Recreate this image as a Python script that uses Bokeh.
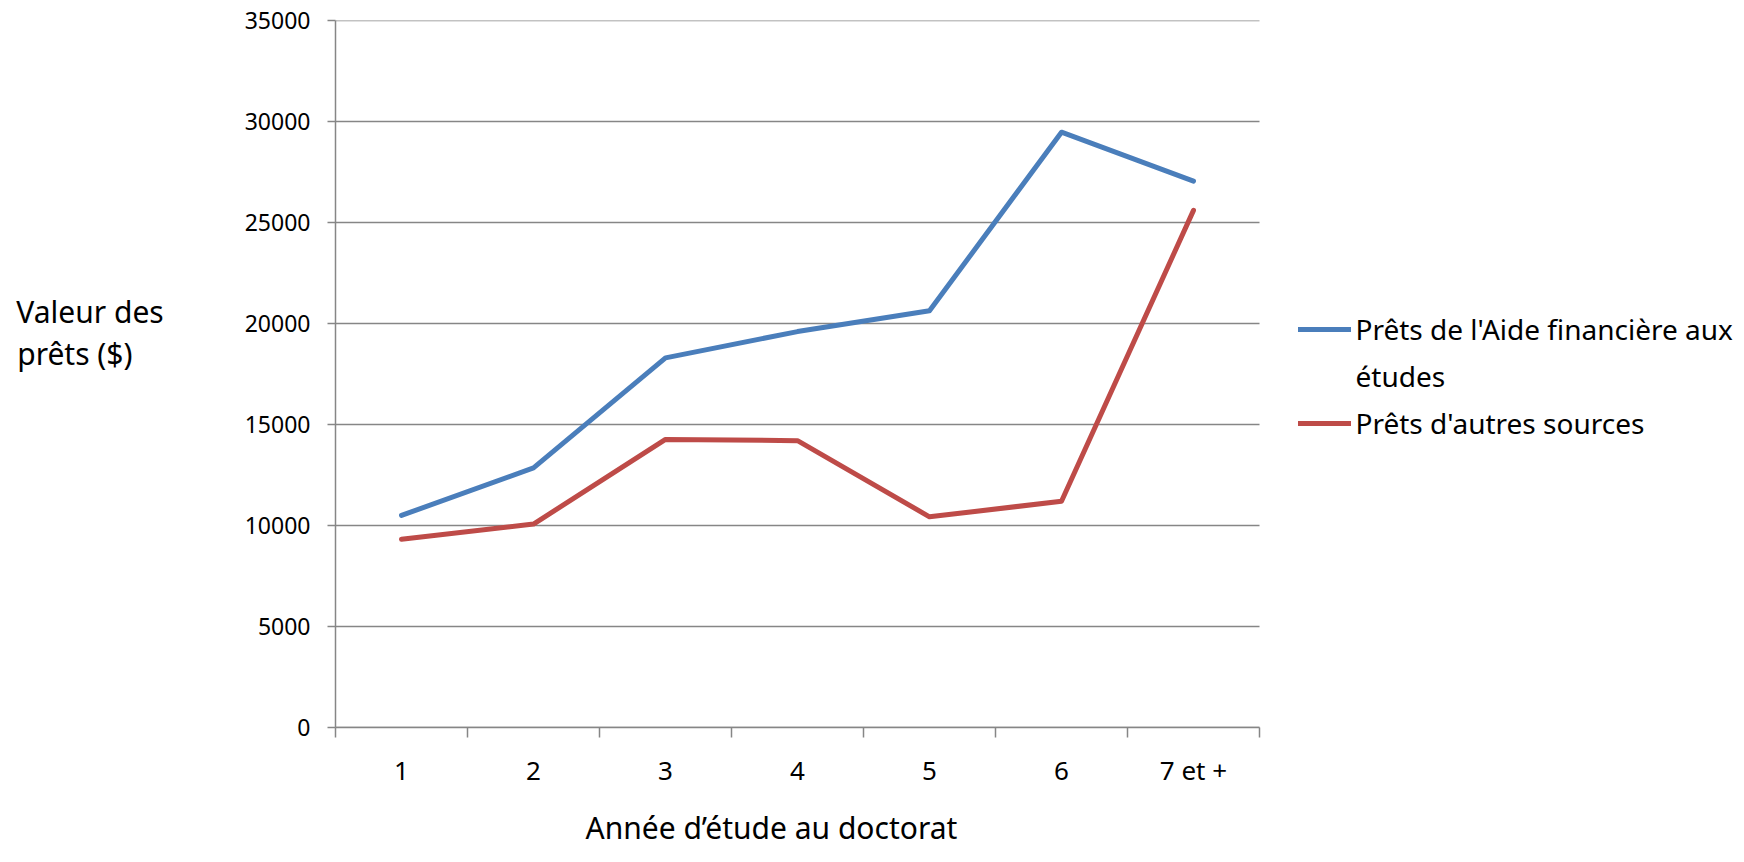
from bokeh.plotting import figure
from bokeh.models import Range1d, FixedTicker, Legend, LegendItem, ColumnDataSource, Title
from bokeh.embed import file_html
from bokeh.resources import INLINE

# ---- data ----
categories = ["1", "2", "3", "4", "5", "6", "7 et +"]
aide_values = [10500, 12850, 18300, 19600, 20630, 29470, 27050]
autres_values = [9320, 10070, 14260, 14200, 10430, 11200, 25600]
y_ticks = [0, 5000, 10000, 15000, 20000, 25000, 30000, 35000]
series_name_lines = [["Prêts de l'Aide financière aux", "études"], ["Prêts d'autres sources"]]
x_title = "Année d’étude au doctorat"
y_title_lines = ["Valeur des", "prêts ($)"]

FONT = "Noto Sans"
GRID = "#868686"
BLUE = "#4A7EBB"
RED = "#BE4B48"

n = len(categories)
xpos = [i + 0.5 for i in range(n)]
src = ColumnDataSource(dict(x=xpos, aide=aide_values, autres=autres_values))
grid_src = ColumnDataSource(dict(x0=[0] * len(y_ticks), x1=[n] * len(y_ticks), y=y_ticks))

# the frame also covers the legend area on the right; the category axis spans [0, n]
CAT_PX = 132.0
FRAME_W = 1744 - 335
p = figure(width=1744, height=862, x_range=Range1d(0, FRAME_W / CAT_PX), y_range=Range1d(0, y_ticks[-1]),
           output_backend="svg", toolbar_location=None,
           min_border_left=335, min_border_right=0, min_border_top=20, min_border_bottom=130)
p.outline_line_color = None
p.background_fill_color = "white"
p.border_fill_color = "white"

# grid (limited to the category span)
p.xgrid.visible = False
p.ygrid.visible = False
p.segment(x0="x0", x1="x1", y0="y", y1="y", source=grid_src, line_color=GRID, line_width=1.5)

# y axis
yax = p.yaxis[0]
yax.ticker = FixedTicker(ticks=y_ticks)
yax.axis_line_color = GRID
yax.axis_line_width = 1.5
yax.major_tick_line_color = GRID
yax.major_tick_line_width = 1.5
yax.major_tick_out = 8
yax.major_tick_in = 0
yax.minor_tick_line_color = None
yax.major_label_text_font = FONT
yax.major_label_text_font_size = "23px"
yax.major_label_text_color = "black"
yax.major_label_standoff = 17
yax.axis_label = y_title_lines[0] + "\n" + y_title_lines[1] + "\u00a0\u00a0\u00a0\u00a0\n\n"
yax.axis_label_orientation = "horizontal"
yax.axis_label_text_font = FONT
yax.axis_label_text_font_size = "30px"
yax.axis_label_text_font_style = "normal"
yax.axis_label_text_color = "black"
yax.axis_label_text_line_height = 1.02
yax.axis_label_standoff = 78

# x axis
xax = p.xaxis[0]
xax.bounds = (0, n)
xax.ticker = FixedTicker(ticks=xpos, minor_ticks=list(range(n + 1)))
xax.major_label_overrides = {xv: c for xv, c in zip(xpos, categories)}
xax.axis_line_color = GRID
xax.axis_line_width = 1.5
xax.major_tick_line_color = None
xax.major_tick_out = 10
xax.major_tick_in = 0
xax.minor_tick_line_color = GRID
xax.minor_tick_line_width = 1.5
xax.minor_tick_out = 10
xax.minor_tick_in = 0
xax.major_label_text_font = FONT
xax.major_label_text_font_size = "26px"
xax.major_label_text_color = "black"
xax.major_label_standoff = 14

# lines
r1 = p.line("x", "aide", source=src, line_color=BLUE, line_width=5, line_cap="round", line_join="round")
r2 = p.line("x", "autres", source=src, line_color=RED, line_width=5, line_cap="round", line_join="round")
# transparent companion so that the wrapped second line of the first legend label gets its own row
r1b = p.line("x", "aide", source=src, line_color=BLUE, line_alpha=0, line_width=5)

legend = Legend(items=[LegendItem(label=series_name_lines[0][0], renderers=[r1]),
                       LegendItem(label=series_name_lines[0][1], renderers=[r1b]),
                       LegendItem(label=series_name_lines[1][0], renderers=[r2])],
                location=(962.5, 284.5))
legend.label_text_font = FONT
legend.label_text_font_size = "28px"
legend.label_text_color = "black"
legend.glyph_width = 53
legend.glyph_height = 40
legend.label_height = 40
legend.label_standoff = 5
legend.padding = 0
legend.margin = 0
legend.spacing = 7
legend.border_line_color = None
legend.background_fill_alpha = 0
p.add_layout(legend)

# x title
p.add_layout(Title(text=x_title, align="left", offset=250, standoff=29,
                   text_font=FONT, text_font_size="30px", text_font_style="normal",
                   text_color="black"), "below")

open("out.html", "w").write(file_html(p, INLINE))
